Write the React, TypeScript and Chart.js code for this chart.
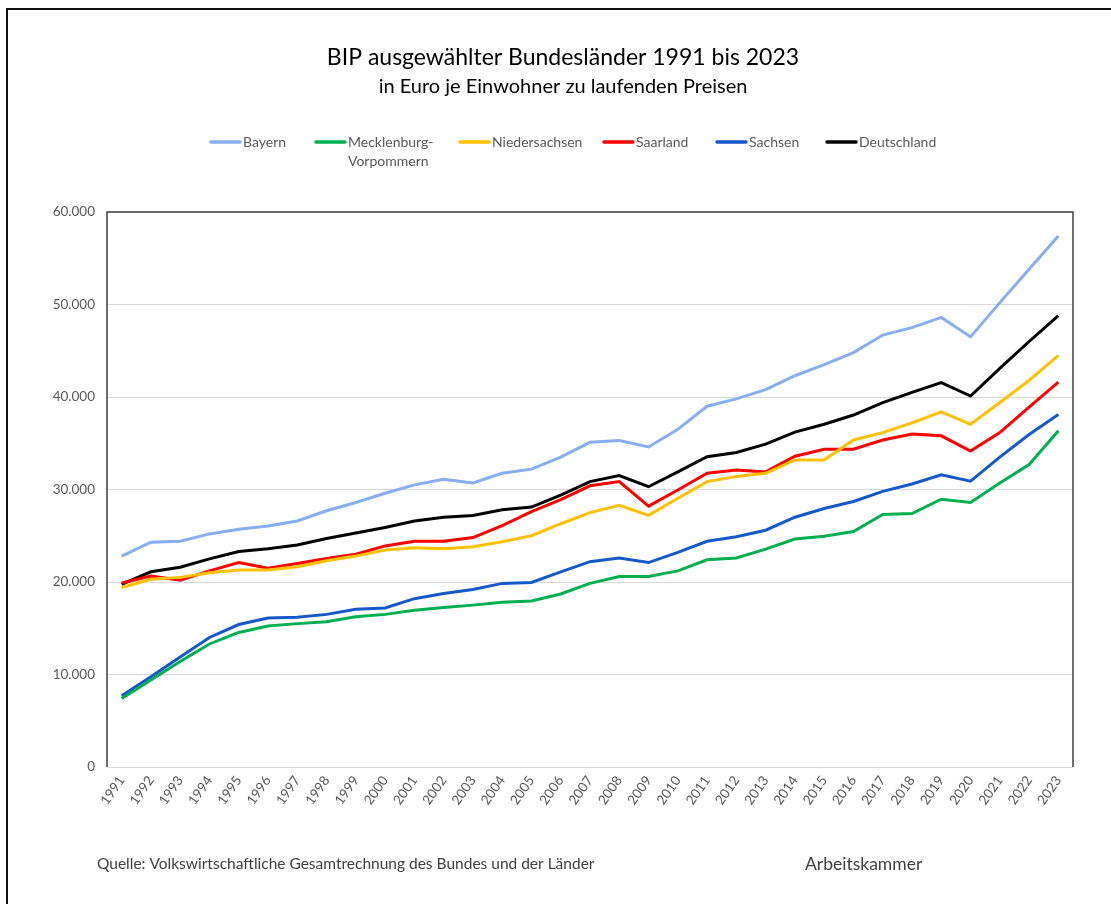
import React, { useEffect, useRef } from "react";
import { Chart, registerables } from "chart.js";

Chart.register(...registerables);

const years = [
  "1991", "1992", "1993", "1994", "1995", "1996", "1997", "1998", "1999", "2000",
  "2001", "2002", "2003", "2004", "2005", "2006", "2007", "2008", "2009", "2010",
  "2011", "2012", "2013", "2014", "2015", "2016", "2017", "2018", "2019", "2020",
  "2021", "2022", "2023",
];

const bayern = [
  22800, 24300, 24400, 25200, 25700, 26050, 26600, 27700, 28600, 29600,
  30500, 31100, 30700, 31750, 32200, 33500, 35100, 35300, 34600, 36500,
  39000, 39800, 40800, 42300, 43500, 44800, 46700, 47500, 48600, 46500,
  50200, 53800, 57400,
];

const mecklenburgVorpommern = [
  7400, 9400, 11400, 13300, 14550, 15250, 15500, 15700, 16250, 16500,
  16950, 17250, 17500, 17800, 17950, 18700, 19850, 20600, 20600, 21200,
  22400, 22600, 23550, 24650, 24950, 25450, 27300, 27400, 28950, 28600,
  30700, 32700, 36350,
];

const niedersachsen = [
  19400, 20300, 20500, 21000, 21300, 21300, 21650, 22300, 22800, 23450,
  23700, 23600, 23800, 24350, 25000, 26300, 27500, 28300, 27200, 29050,
  30850, 31400, 31750, 33200, 33200, 35350, 36150, 37200, 38400, 37050,
  39400, 41800, 44500,
];

const saarland = [
  19900, 20650, 20200, 21200, 22100, 21500, 22000, 22550, 23000, 23900,
  24400, 24400, 24800, 26100, 27600, 28900, 30400, 30850, 28200, 29950,
  31750, 32100, 31900, 33600, 34350, 34350, 35350, 36000, 35800, 34150,
  36150, 38900, 41600,
];

const sachsen = [
  7700, 9750, 11900, 14000, 15400, 16100, 16200, 16500, 17050, 17200,
  18200, 18750, 19200, 19850, 19950, 21100, 22200, 22600, 22100, 23200,
  24400, 24900, 25600, 27000, 27950, 28700, 29800, 30600, 31600, 30900,
  33500, 35950, 38100,
];

const deutschland = [
  19750, 21100, 21600, 22500, 23300, 23600, 24000, 24700, 25300, 25900,
  26600, 27000, 27200, 27800, 28100, 29400, 30850, 31500, 30300, 31900,
  33550, 34000, 34900, 36200, 37050, 38050, 39400, 40500, 41550, 40100,
  43100, 46000, 48800,
];

const seriesNames = ["Bayern", "Mecklenburg-Vorpommern", "Niedersachsen", "Saarland", "Sachsen", "Deutschland"];
const legendLabels = [["Bayern"], ["Mecklenburg-", "Vorpommern"], ["Niedersachsen"], ["Saarland"], ["Sachsen"], ["Deutschland"]];
const seriesColors = ["#86aef0", "#00b050", "#ffc000", "#ff0000", "#1558c8", "#000000"];
const seriesData = [bayern, mecklenburgVorpommern, niedersachsen, saarland, sachsen, deutschland];

const titleText = "BIP ausgewählter Bundesländer 1991 bis 2023";
const subtitleText = "in Euro je Einwohner zu laufenden Preisen";
const sourceText = "Quelle: Volkswirtschaftliche Gesamtrechnung des Bundes und der Länder";
const authorText = "Arbeitskammer";

const FONT = "Lato, 'Open Sans', sans-serif";

function formatDe(v: number): string {
  if (v === 0) return "0";
  const s = Math.round(v).toString();
  return s.replace(/\B(?=(\d{3})+(?!\d))/g, ".");
}

const decorPlugin = {
  id: "decor",
  beforeDatasetsDraw(chart: any) {
    const { ctx, chartArea } = chart;
    ctx.save();
    ctx.strokeStyle = "#3f3f3f";
    ctx.lineWidth = 1.5;
    ctx.beginPath();
    ctx.moveTo(chartArea.left, chartArea.bottom);
    ctx.lineTo(chartArea.left, chartArea.top);
    ctx.lineTo(chartArea.right, chartArea.top);
    ctx.lineTo(chartArea.right, chartArea.bottom);
    ctx.stroke();
    ctx.restore();
  },
  afterDraw(chart: any) {
    const { ctx } = chart;
    ctx.save();
    ctx.textAlign = "center";
    ctx.textBaseline = "middle";
    ctx.fillStyle = "#000000";
    ctx.font = `23px ${FONT}`;
    ctx.fillText(titleText, 563, 58);
    ctx.font = `20px ${FONT}`;
    ctx.fillText(subtitleText, 563, 87);

    // legend
    const starts = [211, 316, 460, 604, 717, 827];
    ctx.textAlign = "left";
    ctx.font = `14px ${FONT}`;
    legendLabels.forEach((lines, i) => {
      const x = starts[i];
      ctx.strokeStyle = seriesColors[i];
      ctx.lineWidth = 3.5;
      ctx.lineCap = "round";
      ctx.beginPath();
      ctx.moveTo(x, 142);
      ctx.lineTo(x + 29, 142);
      ctx.stroke();
      ctx.fillStyle = "#595959";
      lines.forEach((line, j) => {
        ctx.fillText(line, x + 32, 142 + j * 19);
      });
    });

    // footer
    ctx.fillStyle = "#404040";
    ctx.font = `15.5px ${FONT}`;
    ctx.fillText(sourceText, 97, 864);
    ctx.font = `17.5px ${FONT}`;
    ctx.fillText(authorText, 805, 864);
    ctx.restore();
  },
};

export default function App() {
  const canvasRef = useRef<HTMLCanvasElement | null>(null);

  useEffect(() => {
    if (!canvasRef.current) return;
    const chart = new Chart(canvasRef.current, {
      type: "line",
      data: {
        labels: years,
        datasets: seriesNames.map((name, i) => ({
          label: name,
          data: seriesData[i],
          borderColor: seriesColors[i],
          backgroundColor: seriesColors[i],
          borderWidth: 3,
          pointRadius: 0,
          tension: 0,
          fill: false,
        })),
      },
      options: {
        responsive: false,
        animation: false,
        layout: { padding: { top: 212, right: 38, left: 0, bottom: 0 } },
        plugins: {
          legend: { display: false },
          title: { display: false },
          tooltip: { enabled: false },
        },
        scales: {
          x: {
            offset: true,
            grid: { display: false, drawTicks: false },
            border: { display: false },
            ticks: {
              autoSkip: false,
              minRotation: 55,
              maxRotation: 55,
              color: "#595959",
              font: { family: FONT, size: 13.5 },
              padding: 6,
            },
            afterFit: (s: any) => {
              s.height = 137;
            },
          },
          y: {
            min: 0,
            max: 60000,
            grid: { color: "#d9d9d9", lineWidth: 1, drawTicks: false },
            border: { display: false },
            ticks: {
              stepSize: 10000,
              color: "#595959",
              font: { family: FONT, size: 13.5 },
              padding: 12,
              callback: (v: any) => formatDe(Number(v)),
            },
            afterFit: (s: any) => {
              s.width = 107;
            },
          },
        },
      },
      plugins: [decorPlugin],
    });
    return () => chart.destroy();
  }, []);

  return (
    <div style={{ position: "absolute", left: 0, top: 0, width: 1111, height: 904, overflow: "hidden", background: "#fff" }}>
      <div
        style={{
          position: "absolute",
          left: 6,
          top: 8,
          width: 1300,
          height: 1100,
          borderTop: "2px solid #111",
          borderLeft: "2px solid #111",
        }}
      />
      <canvas ref={canvasRef} width={1111} height={904} style={{ position: "absolute", left: 0, top: 0 }} />
    </div>
  );
}
